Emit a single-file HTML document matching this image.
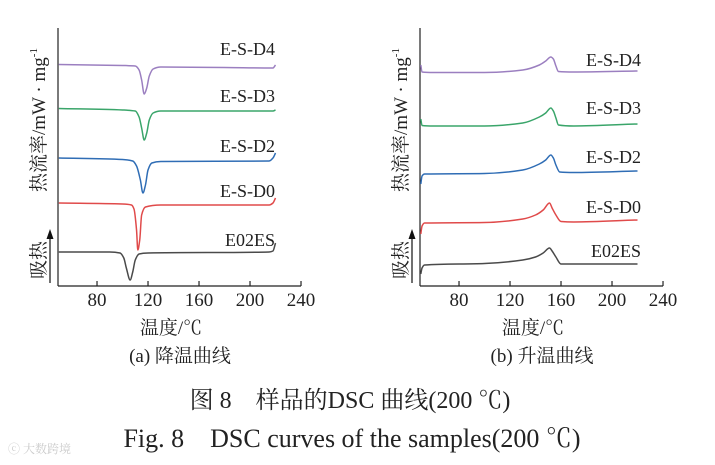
<!DOCTYPE html>
<html><head><meta charset="utf-8"><style>
html,body{margin:0;padding:0;background:#fff;}
svg{display:block;}
text{font-family:"Liberation Serif","Noto Serif CJK SC",serif;fill:#222;}
</style></head><body>
<svg id="chart" width="715" height="465" viewBox="0 0 715 465">
<g id="left"></g>
<g id="right"></g>
<text x="350" y="408" font-size="24" text-anchor="middle">图 8　样品的DSC 曲线(200 ℃)</text>
<text x="352" y="447" font-size="26" text-anchor="middle">Fig. 8　DSC curves of the samples(200 ℃)</text>
<text x="8" y="453" font-size="12" style="fill:#ccc" font-family="Liberation Sans, Noto Sans CJK SC, sans-serif">ⓒ 大数跨境</text>
</svg>
<script>
const seriesNames = ["E-S-D4","E-S-D3","E-S-D2","E-S-D0","E02ES"];
const seriesColors = ["#9b7fc0","#3aa56a","#2f6db5","#e04a4a","#4a4a4a"];
const xTicks = [80,120,160,200,240];
// cooling curves (temperature, heat flow arbitrary units)
const coolT = [
 [50,100,110,113,115,117,119,121,124,130,180,218,220],
 [50,100,110,113,115,117,119,121,124,130,218,220],
 [50,100,108,111,114,116,118,120,123,130,215,218,220],
 [50,100,107,109,111,112,113.5,115,118,130,215,218,220],
 [50,90,98,101,103,106,108,110,113,120,215,218,220]
];
const coolV = [
 [221.5,220.5,220,216,206,192,198,210,217,219,218.5,218,221],
 [177.5,176,175,169,158,146,153,166,173,175,175,176],
 [128,126.5,125,120,106,93,101,116,123,124.5,125,128,133],
 [83,82,81,77,56,36,46,71,79,81,81,83,88],
 [34,34,33,28,18,6,14,26,32,33,34,35,43]
];
// heating curves
const heatT = [
 [50,51,60,100,130,143,148,152,154,156,158,170,220],
 [50,51,60,100,130,143,148,152,154,156,158,170,220],
 [50,51,53,100,130,143,148,152,154,156,159,170,220],
 [50,51,53,100,130,140,146,151,153,156,160,170,220],
 [50,51,53,100,130,140,146,151,153,156,160,220]
];
const heatV = [
 [221,214,213.5,213.5,216,221,225,229,227,220,214.5,214,215],
 [167,160.5,160,160,163,169,173,178,175,168,161,160,162],
 [102,110,112,112.5,116,122,126,131,128,121,114,113.5,115],
 [52,60,63,63.5,67,71,76,83,78,71,64.5,64,66],
 [12,18,21,22.5,26,29,33,38,35,29,22,22]
];
const coolLabelY = [55,102,152,197,246];
const heatLabelY = [66,114,163,213,257];

const NS="http://www.w3.org/2000/svg";
function mk(parent,tag,attrs){const e=document.createElementNS(NS,tag);for(const k in attrs)e.setAttribute(k,attrs[k]);parent.appendChild(e);return e;}
// monotone cubic (Fritsch-Carlson) in x
function smooth(P){
  const n=P.length, s=[], m=[];
  for(let i=0;i<n-1;i++) s.push((P[i+1][1]-P[i][1])/(P[i+1][0]-P[i][0]));
  m[0]=s[0]; m[n-1]=s[n-2];
  for(let i=1;i<n-1;i++){
    if(s[i-1]*s[i]<=0) m[i]=0;
    else{
      const h0=P[i][0]-P[i-1][0], h1=P[i+1][0]-P[i][0];
      m[i]=3*(h0+h1)/((2*h1+h0)/s[i-1]+(h1+2*h0)/s[i]);
    }
  }
  let d='M'+P[0][0].toFixed(1)+','+P[0][1].toFixed(1);
  for(let i=0;i<n-1;i++){
    const h=(P[i+1][0]-P[i][0])/3;
    d+=` C${(P[i][0]+h).toFixed(2)},${(P[i][1]+m[i]*h).toFixed(2)} ${(P[i+1][0]-h).toFixed(2)},${(P[i+1][1]-m[i+1]*h).toFixed(2)} ${P[i+1][0].toFixed(2)},${P[i+1][1].toFixed(2)}`;
  }
  return d;
}

function panel(g,x0,Ts,Vs,labelYs,labelX,sub){
  const xs=t=>x0+(t-49.4)*51/40;
  const ys=v=>286-v;
  const axY=mk(g,'line',{x1:x0,y1:28,x2:x0,y2:286,stroke:'#222','stroke-width':1.2});
  
  
  const axX=mk(g,'line',{x1:x0,y1:286,x2:xs(240),y2:286,stroke:'#222','stroke-width':1.2});
  
  
  xTicks.forEach(t=>{
    const tk=mk(g,'line',{x1:xs(t),y1:286,x2:xs(t),y2:281,stroke:'#222','stroke-width':1.2});
    
    
    const tl=mk(g,'text',{x:xs(t),y:306,'font-size':19,'text-anchor':'middle'});
    tl.textContent=t;
    
    
  });
  Ts.forEach((T,i)=>{
    const P=T.map((t,j)=>[xs(t),ys(Vs[i][j])]);
    const p=mk(g,'path',{d:smooth(P),fill:'none',stroke:seriesColors[i],'stroke-width':1.5,'stroke-linejoin':'round'});
    
    
    const l=mk(g,'text',{x:labelX,y:labelYs[i],'font-size':18,'text-anchor':'end'});
    l.textContent=seriesNames[i];
    
    
  });
  const yt=mk(g,'text',{x:0,y:0,'font-size':19,transform:`translate(${x0-13},120) rotate(-90)`,'text-anchor':'middle'});
  yt.innerHTML='热流率/mW · mg<tspan dy="-8" font-size="11">-1</tspan>';
  
  
  const ab=mk(g,'text',{x:0,y:0,'font-size':19,transform:`translate(${x0-13},260) rotate(-90)`,'text-anchor':'middle'});
  ab.textContent='吸热';
  
  
  const ar=mk(g,'line',{x1:x0-8,y1:283,x2:x0-8,y2:238,stroke:'#111','stroke-width':1.2});
  
  
  const ah=mk(g,'path',{d:`M${x0-11.5},239 L${x0-8},229 L${x0-4.5},239 Z`,fill:'#111'});
  
  
  const xt=mk(g,'text',{x:x0+113,y:334,'font-size':19,'text-anchor':'middle'});
  xt.textContent='温度/℃';
  
  
  const st=mk(g,'text',{x:x0+122,y:362,'font-size':19,'text-anchor':'middle'});
  st.textContent=sub;
  
  
}
panel(document.getElementById('left'),58,coolT,coolV,coolLabelY,275,'(a) 降温曲线');
panel(document.getElementById('right'),420,heatT,heatV,heatLabelY,641,'(b) 升温曲线');
</script>
</body></html>
